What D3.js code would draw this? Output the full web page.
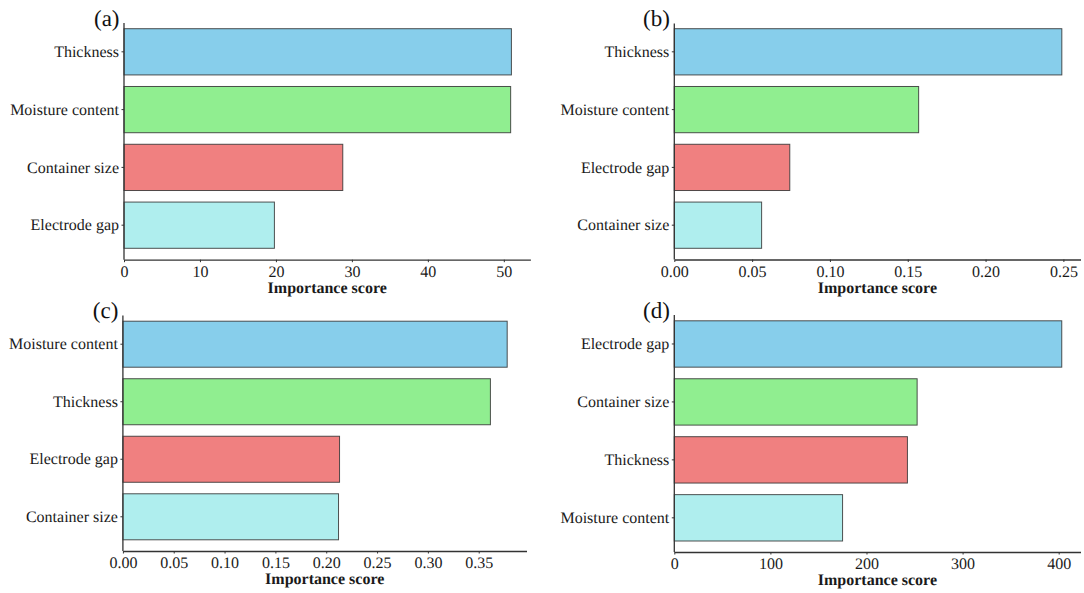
<!DOCTYPE html>
<html>
<head>
<meta charset="utf-8">
<script src="https://cdn.jsdelivr.net/npm/d3@7/dist/d3.min.js"></script>
<style>
  html, body { margin: 0; padding: 0; background: #fff; }
  svg { display: block; text-rendering: geometricPrecision; }
  svg text { font-family: "Liberation Serif", "Times New Roman", Times, serif; }
</style>
</head>
<body>
<svg id="chart" width="1084" height="593"></svg>
<script>
// Feature importance from four models, one panel each
const barColors = ["#87CEEB", "#90EE90", "#F08080", "#AFEEEE"];

const featuresA = ["Thickness", "Moisture content", "Container size", "Electrode gap"];
const scoresA   = [51.0, 50.9, 28.8, 19.8];
const ticksA    = [0, 10, 20, 30, 40, 50];
const limitA    = 53.5;

const featuresB = ["Thickness", "Moisture content", "Electrode gap", "Container size"];
const scoresB   = [0.249, 0.157, 0.0742, 0.0561];
const ticksB    = [0, 0.05, 0.10, 0.15, 0.20, 0.25];
const limitB    = 0.261;

const featuresC = ["Moisture content", "Thickness", "Electrode gap", "Container size"];
const scoresC   = [0.378, 0.3615, 0.2131, 0.2121];
const ticksC    = [0, 0.05, 0.10, 0.15, 0.20, 0.25, 0.30, 0.35];
const limitC    = 0.397;

const featuresD = ["Electrode gap", "Container size", "Thickness", "Moisture content"];
const scoresD   = [403.2, 252.7, 242.6, 175.1];
const ticksD    = [0, 100, 200, 300, 400];
const limitD    = 422.7;

const panelTags  = ["(a)", "(b)", "(c)", "(d)"];
const axisTitle  = "Importance score";

const FONT = '"Liberation Serif", "Times New Roman", Times, serif';
const INK = "#1a1a1a";
const AXIS = "#333";

// panel frames
const panels = [
  { tag: panelTags[0], feats: featuresA, vals: scoresA, ticks: ticksA, max: limitA, fmt: d3.format("d"),
    left: 124, right: 530.4, top: 23, axisY: 259.7, barTop: 28.7, barBottom: 248.3 },
  { tag: panelTags[1], feats: featuresB, vals: scoresB, ticks: ticksB, max: limitB, fmt: d3.format(".2f"),
    left: 674.3, right: 1080.5, top: 23.5, axisY: 259.5, barTop: 28.7, barBottom: 248.3 },
  { tag: panelTags[2], feats: featuresC, vals: scoresC, ticks: ticksC, max: limitC, fmt: d3.format(".2f"),
    left: 122.9, right: 526.5, top: 315.5, axisY: 551, barTop: 321.2, barBottom: 539.8 },
  { tag: panelTags[3], feats: featuresD, vals: scoresD, ticks: ticksD, max: limitD, fmt: d3.format("d"),
    left: 674.3, right: 1080.5, top: 315, axisY: 552, barTop: 320.8, barBottom: 541 }
];

const svg = d3.select("#chart");

panels.forEach(p => {
  const g = svg.append("g");

  const x = d3.scaleLinear().domain([0, p.max]).range([p.left, p.right]);
  const y = d3.scaleBand().domain(p.feats).range([p.barTop, p.barBottom])
    .paddingInner(0.2).paddingOuter(0);

  // bars
  g.selectAll("rect.bar")
    .data(p.feats.map((f, i) => ({ f, v: p.vals[i], c: barColors[i] })))
    .join("rect")
    .attr("class", "bar")
    .attr("x", x(0))
    .attr("y", d => y(d.f))
    .attr("width", d => x(d.v) - x(0))
    .attr("height", y.bandwidth())
    .attr("fill", d => d.c)
    .attr("stroke", "#333")
    .attr("stroke-opacity", 0.85)
    .attr("stroke-width", 1);

  // x axis
  const xAxis = d3.axisBottom(x).tickValues(p.ticks).tickFormat(p.fmt)
    .tickSize(2.5).tickPadding(3).tickSizeOuter(0);
  const gx = g.append("g").attr("transform", `translate(0,${p.axisY})`).call(xAxis)
    .attr("font-family", FONT);
  gx.select(".domain").attr("stroke", AXIS).attr("stroke-width", 1.3);
  gx.selectAll(".tick line").attr("stroke", AXIS).attr("stroke-width", 1);
  gx.selectAll(".tick text")
    .attr("fill", INK).attr("font-size", 16)
    .attr("dy", null).attr("y", 17);

  // y axis: ticks from the band scale, line spans the full panel height
  const yAxis = d3.axisLeft(y).tickSize(2.5).tickPadding(2.5).tickSizeOuter(0);
  const gy = g.append("g").attr("transform", `translate(${p.left},0)`).call(yAxis)
    .attr("font-family", FONT);
  gy.select(".domain").remove();
  gy.selectAll(".tick line").attr("stroke", AXIS).attr("stroke-width", 1);
  gy.selectAll(".tick text").attr("fill", INK).attr("font-size", 16);
  g.append("line")
    .attr("x1", p.left).attr("x2", p.left)
    .attr("y1", p.top).attr("y2", p.axisY)
    .attr("stroke", AXIS).attr("stroke-width", 1.3);

  // axis title
  g.append("text")
    .attr("x", (p.left + p.right) / 2)
    .attr("y", p.axisY + 33)
    .attr("text-anchor", "middle")
    .attr("font-weight", "bold")
    .attr("font-size", 16)
    .attr("fill", INK)
    .text(axisTitle);

  // panel tag
  g.append("text")
    .attr("x", p.left - 4.5)
    .attr("y", p.top + 2.5)
    .attr("text-anchor", "end")
    .attr("font-size", 23)
    .attr("fill", "#111")
    .text(p.tag);
});
</script>
</body>
</html>
